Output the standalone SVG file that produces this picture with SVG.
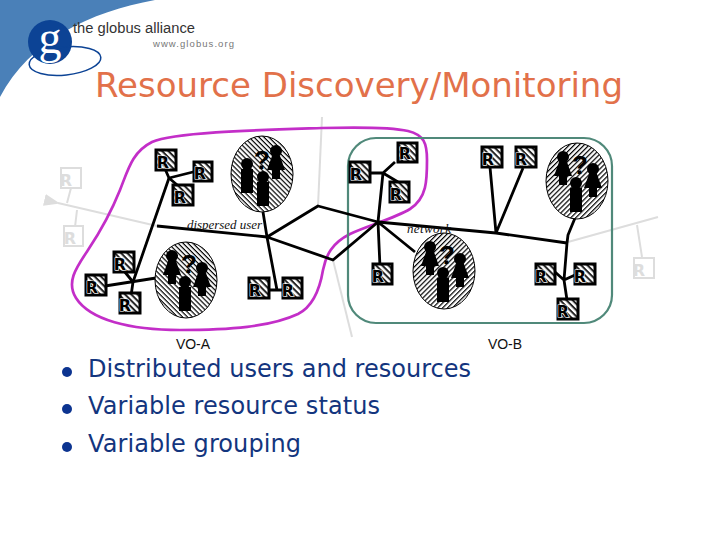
<svg xmlns="http://www.w3.org/2000/svg" width="720" height="540" viewBox="0 0 720 540">
<style>
.r rect{stroke:#000;stroke-width:3;fill:url(#h2)}
.r text{font:bold 16px "DejaVu Sans",sans-serif;fill:#000;text-anchor:middle;stroke:#fff;stroke-width:1.2;paint-order:stroke}
.g rect{stroke:#ddd;stroke-width:2;fill:#fff}
.g text{font:bold 16px "DejaVu Sans",sans-serif;fill:#ddd;text-anchor:middle}
.u ellipse{stroke:#000;stroke-width:1}
.q{font:bold 26px "Liberation Sans",sans-serif;fill:#000;text-anchor:middle}
.blk{stroke:#000;stroke-width:2.8;fill:none;stroke-linejoin:round}
.gry{stroke:#ddd;stroke-width:2;fill:none}
.lbl{font:14px "Liberation Sans",sans-serif;fill:#111;text-anchor:middle}
.net{font:italic 13px "Liberation Serif",serif;fill:#111}
.b{font:24px "DejaVu Sans",sans-serif;fill:#13357e}
.dot{fill:#0c3490}
</style>
<defs>
<pattern id="h1" width="3.5" height="3.5" patternUnits="userSpaceOnUse" patternTransform="rotate(45)"><rect width="3.5" height="3.5" fill="#fff"/><rect width="3.5" height="1.2" fill="#000"/></pattern>
<pattern id="h3" width="3.5" height="3.5" patternUnits="userSpaceOnUse" patternTransform="rotate(-45)"><rect width="3.5" height="3.5" fill="#fff"/><rect width="3.5" height="1.2" fill="#000"/></pattern>
<pattern id="h2" width="4.4" height="4.4" patternUnits="userSpaceOnUse" patternTransform="rotate(45)"><rect width="4.4" height="4.4" fill="#fff"/><rect width="4.4" height="2" fill="#222"/></pattern>
<g id="male"><circle cx="0" cy="0" r="6"/><rect x="-6" y="5" width="12" height="24"/></g>
<g id="female"><circle cx="0" cy="0" r="6"/><path d="M-4 5H4L9 19H4V28H-4V19H-9Z"/></g>
<g id="trio"><use href="#female" x="-14" y="-24"/><use href="#female" x="16" y="-12"/><use href="#male" x="-1" y="2"/><text class="q" x="3" y="-7">?</text></g>
<marker id="ga" markerWidth="8" markerHeight="8" refX="1" refY="3" orient="auto-start-reverse"><path d="M8 0L0 3L8 6Z" fill="#ddd"/></marker>
</defs>
<rect width="720" height="540" fill="#fff"/>
<g id="logo">
<path d="M0 0H155C90 12 30 40 0 97Z" fill="#4a80b8"/>
<circle cx="50" cy="42" r="22" fill="#0c4395"/>
<ellipse cx="65" cy="61" rx="36" ry="14" transform="rotate(-6 65 61)" fill="none" stroke="#0c4395" stroke-width="1.5"/>
<text x="50" y="53" font-family="Liberation Serif,serif" font-size="46" fill="#fff" text-anchor="middle">g</text>
<text x="73" y="33" font-family="Liberation Sans,sans-serif" font-size="15.5" fill="#333" textLength="122" lengthAdjust="spacingAndGlyphs">the globus alliance</text>
<text x="153" y="47" font-family="Liberation Sans,sans-serif" font-size="9.5" fill="#777" textLength="81">www.globus.org</text>
</g>
<text x="95" y="96.5" font-family="DejaVu Sans,sans-serif" font-size="33" fill="#e2714a" textLength="528" lengthAdjust="spacingAndGlyphs">Resource Discovery/Monitoring</text>
<g id="connectors">
<g class="gry">
<path d="M322 117L318 206"/>
<path d="M58 203L157 226" marker-start="url(#ga)"/>
<path d="M71 188L67 203M77 210L75 227"/>
<path d="M333 260L352 337"/>
<path d="M568 242L658 217M637 225L642 257"/>
</g>
<path id="vo-a" d="M322 128C360 127 395 128 408 131C424 135 427 143 427 160C427 180 427 198 410 209C395 218 370 225 350 234C332 243 326 255 323 270C320 288 314 306 298 314C270 327 230 330 180 330C130 330 90 320 76 298C66 282 76 268 88 250C100 232 112 210 120 190C128 170 132 152 152 142C175 132 260 130 322 128Z" fill="none" stroke="#c32ec8" stroke-width="2.7"/>
<rect id="vo-b" x="348" y="138" width="264" height="185" rx="28" fill="none" stroke="#50897a" stroke-width="2.2"/>
<g class="blk">
<path d="M157 226L267 237M169 178L133 282"/>
<path d="M169 178L162 162M169 178L197 171M169 178L183 190"/>
<path d="M105 286L156 278M133 282L120 266M133 282L131 296"/>
<path d="M263 212L267 237L277 290M259 290H284"/>
<path d="M267 237L318 206L378 222L333 260L267 237"/>
<path d="M378 222L383 173M365 173H383L395 162M383 173L398 182"/>
<path d="M378 222L380 267M378 222L415 252"/>
<path d="M378 222L496 233L567 243"/>
<path d="M496 233L490 167M496 233L523 168"/>
<path d="M575 218L568 235L567 243L564 280M555 272L564 280L575 275M564 280L567 300"/>
</g>
</g>
<text class="net" x="187" y="229" textLength="75">dispersed user</text>
<text class="net" x="407" y="233" textLength="44">network</text>
<g id="res-1" class="r"><rect x="156" y="150" width="20" height="20"/><text x="163" y="168">R</text></g>
<g id="res-2" class="r"><rect x="194" y="162" width="18" height="19"/><text x="200" y="179">R</text></g>
<g id="res-3" class="r"><rect x="173" y="185" width="20" height="20"/><text x="180" y="203">R</text></g>
<g id="res-4" class="g"><rect x="61" y="168" width="20" height="20"/><text x="66" y="186">R</text></g>
<g id="res-5" class="g"><rect x="64" y="226" width="19" height="20"/><text x="70" y="244">R</text></g>
<g id="res-6" class="r"><rect x="114" y="252" width="20" height="20"/><text x="120" y="270">R</text></g>
<g id="res-7" class="r"><rect x="86" y="275" width="20" height="20"/><text x="92" y="293">R</text></g>
<g id="res-8" class="r"><rect x="120" y="293" width="20" height="20"/><text x="125" y="311">R</text></g>
<g id="res-9" class="r"><rect x="249" y="278" width="20" height="20"/><text x="255" y="296">R</text></g>
<g id="res-10" class="r"><rect x="283" y="278" width="19" height="20"/><text x="288" y="296">R</text></g>
<g id="res-11" class="r"><rect x="398" y="143" width="19" height="19"/><text x="405" y="159">R</text></g>
<g id="res-12" class="r"><rect x="350" y="162" width="20" height="20"/><text x="356" y="180">R</text></g>
<g id="res-13" class="r"><rect x="390" y="182" width="19" height="20"/><text x="396" y="200">R</text></g>
<g id="res-14" class="r"><rect x="482" y="147" width="20" height="20"/><text x="488" y="165">R</text></g>
<g id="res-15" class="r"><rect x="516" y="147" width="20" height="20"/><text x="521" y="165">R</text></g>
<g id="res-16" class="r"><rect x="373" y="264" width="19" height="20"/><text x="378" y="282">R</text></g>
<g id="res-17" class="r"><rect x="536" y="264" width="19" height="20"/><text x="541" y="282">R</text></g>
<g id="res-18" class="r"><rect x="575" y="264" width="20" height="20"/><text x="580" y="282">R</text></g>
<g id="res-19" class="r"><rect x="558" y="299" width="20" height="20"/><text x="563" y="317">R</text></g>
<g id="res-20" class="g"><rect x="634" y="258" width="20" height="20"/><text x="639" y="276">R</text></g>
<g id="users-1" class="u" transform="translate(262 174)"><ellipse rx="31" ry="38" fill="url(#h1)"/><use href="#male" x="-15" y="-10"/><use href="#female" x="14" y="-23"/><use href="#male" x="1" y="3"/><text class="q" x="0" y="-5">?</text></g>
<g id="users-2" class="u" transform="translate(186 280)"><ellipse rx="31" ry="38" fill="url(#h1)"/><use href="#trio"/></g>
<g id="users-3" class="u" transform="translate(577 181)"><ellipse rx="31" ry="38" fill="url(#h3)"/><use href="#trio"/></g>
<g id="users-4" class="u" transform="translate(444 271)"><ellipse rx="31" ry="38" fill="url(#h3)"/><use href="#trio"/></g>
<text class="lbl" x="193" y="349">VO-A</text>
<text class="lbl" x="505" y="349">VO-B</text>
<g id="bullets">
<circle class="dot" cx="67" cy="372" r="5"/><text class="b" x="88" y="377" textLength="383">Distributed users and resources</text>
<circle class="dot" cx="67" cy="409" r="5"/><text class="b" x="88" y="414" textLength="292">Variable resource status</text>
<circle class="dot" cx="67" cy="447" r="5"/><text class="b" x="88" y="452" textLength="213">Variable grouping</text>
</g>
</svg>
